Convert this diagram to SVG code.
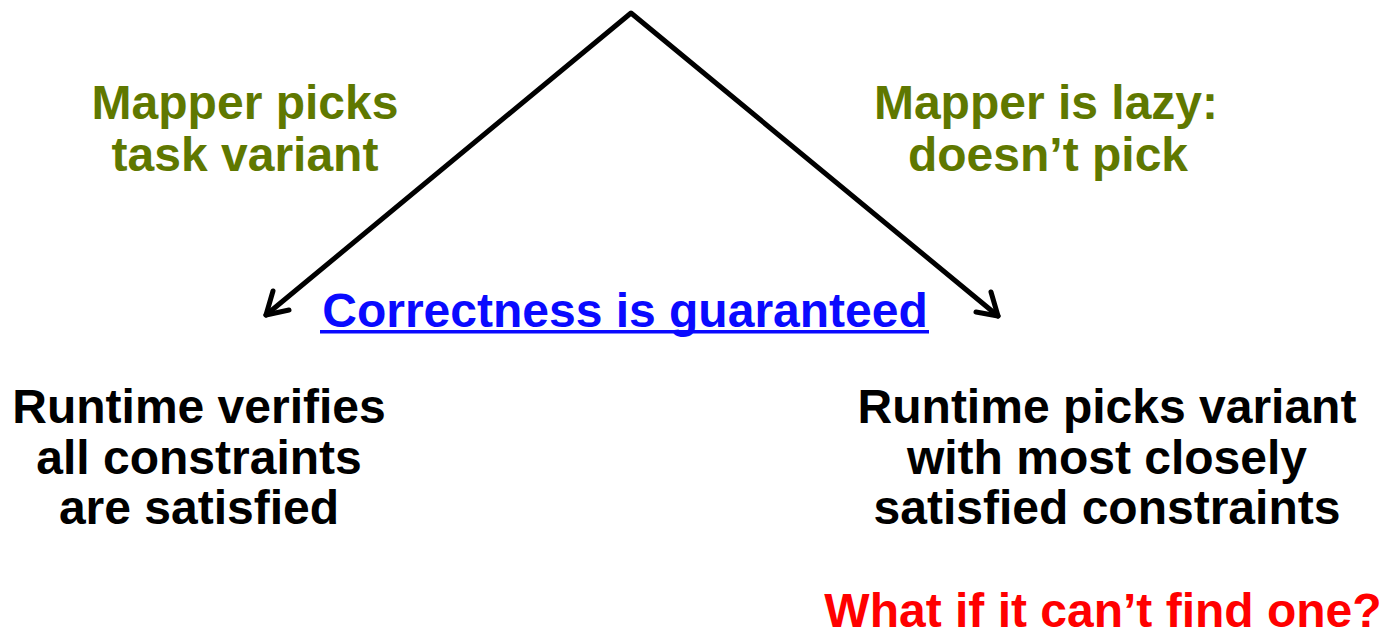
<svg xmlns="http://www.w3.org/2000/svg" width="1384" height="634" viewBox="0 0 1384 634">
<style>
  text { font-family: "Liberation Sans", Arial, sans-serif; font-weight: bold; font-size: 48px; text-anchor: middle; }
  .green { fill: #5f7800; }
  .black { fill: #000000; }
  .blue { fill: #0a0aff; }
  .red { fill: #ff0000; }
  .conn { stroke: #000; stroke-width: 5; fill: none; stroke-linecap: round; stroke-linejoin: round; }
</style>
<rect width="1384" height="634" fill="#ffffff"/>
<g id="connectors">
  <path class="conn" d="M 266 315 L 631 13 L 998 316"/>
  <path class="conn" d="M 273 291 L 266 315 L 289 310"/>
  <path class="conn" d="M 991 292 L 998 316 L 976 312"/>
</g>
<g id="label-left">
  <text class="green" x="245" y="119">Mapper picks</text>
  <text class="green" x="245" y="171">task variant</text>
</g>
<g id="label-right">
  <text class="green" x="1046" y="119">Mapper is lazy:</text>
  <text class="green" x="1048" y="171">doesn’t pick</text>
</g>
<g id="center">
  <text class="blue" x="625" y="327">Correctness is guaranteed</text>
  <rect x="320" y="330" width="609" height="3.5" fill="#0a0aff"/>
</g>
<g id="node-left">
  <text class="black" x="199" y="423">Runtime verifies</text>
  <text class="black" x="199" y="474">all constraints</text>
  <text class="black" x="199" y="524">are satisfied</text>
</g>
<g id="node-right">
  <text class="black" x="1107" y="423">Runtime picks variant</text>
  <text class="black" x="1107" y="474">with most closely</text>
  <text class="black" x="1107" y="524">satisfied constraints</text>
</g>
<g id="question">
  <text class="red" x="1103" y="627">What if it can’t find one?</text>
</g>
</svg>
